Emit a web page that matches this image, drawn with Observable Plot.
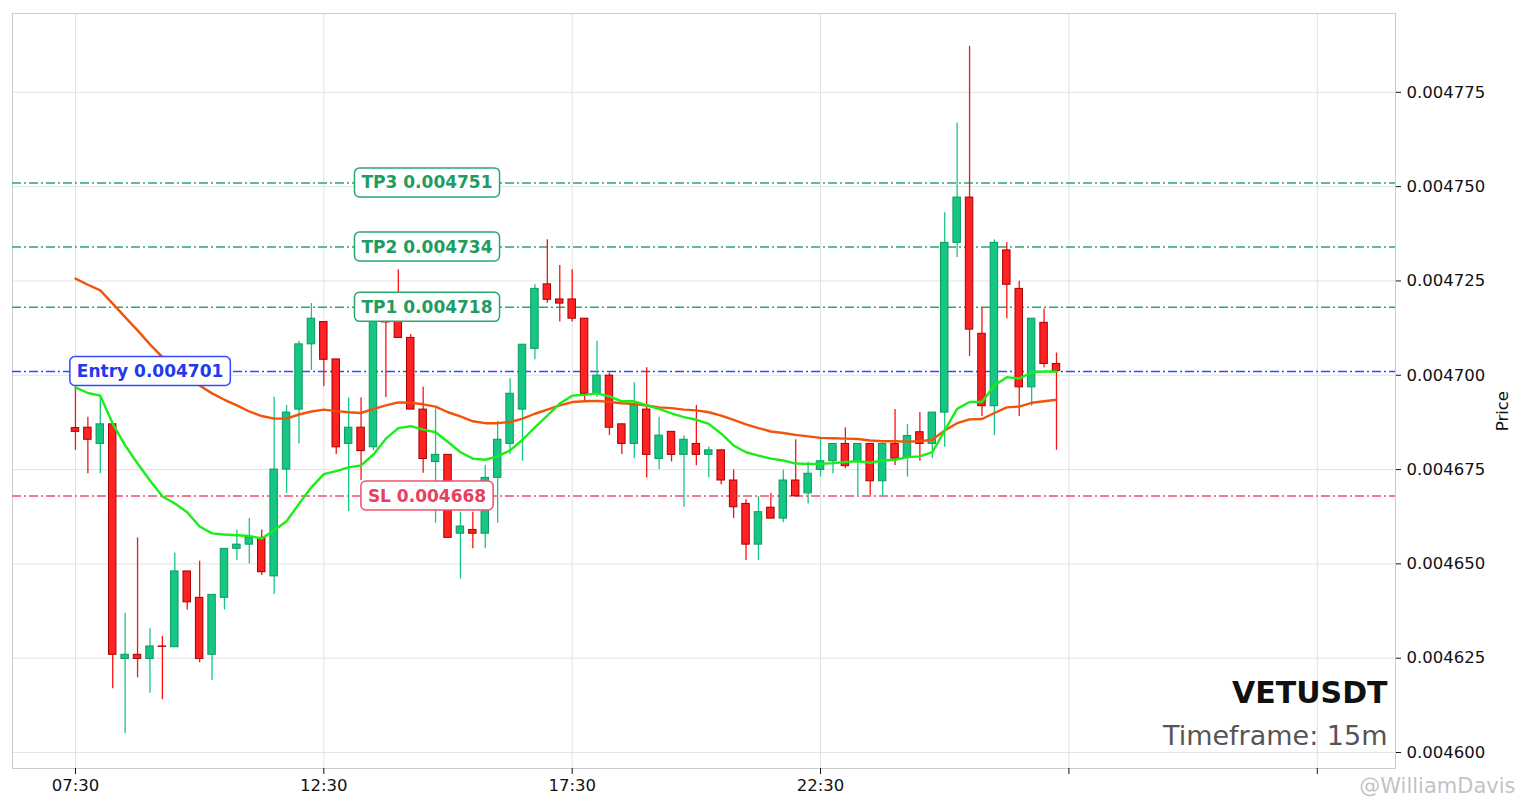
<!DOCTYPE html>
<html>
<head>
<meta charset="utf-8">
<script src="https://cdn.jsdelivr.net/npm/d3@7"></script>
<script src="https://cdn.jsdelivr.net/npm/@observablehq/plot@0.6"></script>
<style>
  body { margin: 0; background: #fff; }
  #chart svg { display: block; }
</style>
</head>
<body>
<div id="chart"></div>
<script>
// VETUSDT 15m candles, prices in millionths (4686.0 -> 0.0046860)
const symbol = "VETUSDT";
const timeframe = "Timeframe: 15m";

const opens  = [4686.0,4686.1,4681.8,4687.0,4624.8,4625.9,4624.8,4628.1,4627.9,4648.0,
                4641.0,4625.9,4641.0,4654.0,4655.1,4656.9,4646.7,4675.0,4690.9,4708.2,
                4714.1,4704.2,4681.8,4686.1,4680.9,4718.5,4716.0,4709.9,4690.9,4677.0,
                4678.9,4658.0,4659.0,4658.0,4672.8,4681.8,4690.9,4707.0,4724.1,4720.1,
                4720.1,4715.0,4695.1,4699.9,4687.0,4681.8,4690.9,4677.8,4685.0,4678.9,
                4681.8,4678.9,4680.1,4672.1,4665.9,4655.1,4664.9,4662.0,4672.1,4668.7,
                4674.9,4677.2,4681.8,4677.2,4681.8,4671.9,4681.8,4678.3,4684.9,4681.8,
                4690.1,4735.1,4747.1,4711.0,4691.8,4733.1,4722.9,4696.8,4713.9,4703.0];
const highs  = [4696.8,4688.9,4694.6,4687.0,4636.9,4656.9,4632.8,4630.8,4652.9,4648.0,
                4650.7,4641.8,4654.0,4659.0,4662.0,4659.0,4694.2,4692.0,4709.0,4719.0,
                4714.1,4704.2,4694.0,4694.0,4719.0,4720.0,4728.0,4710.8,4696.8,4691.1,
                4678.9,4663.7,4663.7,4676.1,4687.8,4699.1,4708.1,4724.0,4735.9,4729.1,
                4728.0,4715.0,4709.0,4700.6,4687.0,4698.0,4702.0,4688.9,4685.0,4684.0,
                4692.0,4681.0,4680.1,4674.9,4667.0,4667.9,4668.7,4674.9,4682.9,4677.0,
                4683.6,4681.8,4686.1,4681.8,4681.8,4682.0,4690.9,4686.9,4690.1,4690.1,
                4743.1,4766.9,4787.2,4717.9,4735.9,4735.1,4724.9,4715.0,4717.6,4705.9];
const lows   = [4680.1,4673.9,4673.9,4616.9,4605.0,4619.8,4615.7,4614.0,4627.9,4637.8,
                4623.8,4619.1,4637.8,4650.9,4650.0,4646.9,4641.9,4668.7,4681.8,4701.3,
                4697.0,4679.0,4663.9,4672.1,4680.0,4694.1,4709.9,4690.9,4674.0,4660.8,
                4656.9,4646.0,4654.0,4654.0,4660.8,4679.0,4677.2,4704.1,4719.1,4714.1,
                4714.1,4692.9,4694.2,4684.0,4679.0,4677.9,4672.8,4675.0,4677.0,4665.0,
                4676.0,4672.8,4671.0,4662.0,4650.9,4650.9,4662.0,4660.9,4667.9,4665.9,
                4673.0,4673.9,4675.2,4668.1,4668.1,4668.1,4676.1,4673.0,4677.2,4677.9,
                4680.9,4731.2,4705.0,4689.1,4684.0,4715.0,4689.1,4691.8,4702.0,4680.1];
const closes = [4685.0,4682.9,4687.0,4625.9,4625.9,4624.8,4628.1,4628.0,4648.0,4639.8,
                4624.8,4641.8,4654.0,4655.1,4656.9,4647.8,4675.0,4690.1,4708.2,4715.0,
                4704.1,4680.9,4686.1,4679.9,4717.0,4714.0,4709.9,4690.9,4677.8,4678.9,
                4656.9,4659.9,4658.0,4672.8,4682.9,4695.1,4708.1,4722.9,4720.0,4719.0,
                4715.0,4695.1,4699.9,4686.1,4681.8,4692.0,4678.9,4684.0,4678.9,4682.9,
                4678.9,4680.1,4672.1,4665.0,4655.1,4663.7,4662.0,4672.1,4667.9,4673.9,
                4677.2,4681.8,4675.9,4681.8,4671.9,4681.8,4677.9,4683.9,4681.8,4690.1,
                4735.1,4747.1,4712.1,4691.8,4735.1,4724.0,4696.8,4715.0,4703.0,4701.1];

// moving averages, read per candle
const maFast = [4696.8,4695.3,4694.6,4687.2,4681.4,4676.6,4672.1,4667.9,4666.0,4663.7,
                4659.9,4658.1,4657.8,4657.6,4657.4,4656.7,4658.9,4661.3,4665.9,4670.3,
                4673.8,4674.6,4675.6,4676.1,4679.0,4683.2,4686.0,4686.5,4685.6,4684.9,
                4682.3,4679.6,4677.9,4677.6,4678.5,4680.1,4682.9,4686.2,4689.3,4692.5,
                4694.6,4694.8,4695.2,4694.4,4693.1,4693.1,4692.0,4691.1,4689.9,4688.9,
                4688.2,4687.1,4684.5,4681.4,4679.6,4678.7,4677.9,4677.4,4676.6,4676.5,
                4676.5,4676.7,4677.0,4677.2,4676.8,4677.4,4677.6,4678.3,4678.5,4679.6,
                4685.4,4691.1,4692.9,4692.9,4697.3,4699.5,4699.1,4700.8,4701.0,4701.0];
const maSlow = [4725.6,4724.0,4722.5,4719.0,4715.4,4711.9,4708.2,4704.8,4702.3,4699.7,
                4697.3,4695.2,4693.5,4692.0,4690.4,4689.2,4688.5,4688.5,4689.6,4690.4,
                4690.9,4690.5,4690.2,4690.0,4691.1,4692.0,4692.8,4692.7,4692.3,4691.7,
                4690.2,4689.1,4687.8,4687.3,4687.3,4687.6,4688.5,4689.8,4690.9,4692.0,
                4692.9,4693.1,4693.2,4692.9,4692.6,4692.4,4692.0,4691.5,4691.3,4690.9,
                4690.7,4690.2,4689.3,4688.2,4687.0,4686.0,4685.1,4684.7,4684.2,4683.8,
                4683.4,4683.3,4683.2,4683.1,4682.7,4682.5,4682.5,4682.4,4682.5,4682.9,
                4685.4,4687.3,4688.3,4688.4,4690.0,4691.5,4691.7,4692.7,4693.1,4693.5];

// trade levels
const levelNames  = ["TP3 0.004751", "TP2 0.004734", "TP1 0.004718", "Entry 0.004701", "SL 0.004668"];
const levelPrices = [4751, 4734, 4718, 4701, 4668];
const levelColors = ["#2aa86c", "#2aa86c", "#2aa86c", "#3347ff", "#f0506c"];
const levelText   = ["#1f9c5f", "#1f9c5f", "#1f9c5f", "#2238ee", "#e8405e"];
const levelLabelX = [28.35, 28.35, 28.35, 6.05, 28.35];

// axes
const xTickValues = [0, 20, 40, 60, 80, 100];
const xTickLabels = ["07:30", "12:30", "17:30", "22:30", "", ""];
const yTickValues = [4600, 4625, 4650, 4675, 4700, 4725, 4750, 4775];

const candles = opens.map((o, i) => ({
  i, open: o, high: highs[i], low: lows[i], close: closes[i],
  fast: maFast[i], slow: maSlow[i], up: closes[i] >= o
}));
const levels = levelNames.map((name, k) => ({
  name, price: levelPrices[k], color: levelColors[k], text: levelText[k], lx: levelLabelX[k]
}));

const upFill = "#16c784", upEdge = "#0b9a60";
const downFill = "#ff2222", downEdge = "#a50000";

// boxed labels on the level lines
function levelLabels(index, scales) {
  const g = d3.create("svg:g");
  const ctx = document.createElement("canvas").getContext("2d");
  ctx.font = "bold 17px 'DejaVu Sans'";
  for (const lv of levels) {
    const cx = scales.x(lv.lx), cy = scales.y(lv.price);
    const w = ctx.measureText(lv.name).width + 14, h = 29;
    g.append("rect")
      .attr("x", cx - w / 2).attr("y", cy - h / 2)
      .attr("width", w).attr("height", h).attr("rx", 5)
      .attr("fill", "white").attr("stroke", lv.color).attr("stroke-width", 1.5);
    g.append("text")
      .attr("x", cx).attr("y", cy)
      .attr("text-anchor", "middle").attr("dy", "0.36em")
      .attr("font-family", "DejaVu Sans").attr("font-weight", "bold").attr("font-size", 17)
      .attr("fill", lv.text)
      .text(lv.name);
  }
  return g.node();
}

const chart = Plot.plot({
  width: 1523,
  height: 800,
  marginLeft: 12,
  marginRight: 128,
  marginTop: 13,
  marginBottom: 32,
  style: { fontFamily: "DejaVu Sans", fontSize: "16.5px", color: "#111", background: "white" },
  x: { domain: [-5.07, 106.3] },
  y: { domain: [4595.76, 4795.9] },
  marks: [
    Plot.gridX(xTickValues, { stroke: "#e2e2e2", strokeOpacity: 1 }),
    Plot.gridY(yTickValues, { stroke: "#e2e2e2", strokeOpacity: 1 }),
    Plot.frame({ stroke: "#cccccc" }),
    Plot.axisX(xTickValues, {
      anchor: "bottom", tickSize: 6, tickPadding: 5,
      tickFormat: d => xTickLabels[xTickValues.indexOf(d)], label: null
    }),
    Plot.axisY(yTickValues, {
      anchor: "right", tickSize: 5, tickPadding: 6,
      tickFormat: d => (d / 1e6).toFixed(6), label: null
    }),
    Plot.text(["Price"], { frameAnchor: "right", dx: 107, rotate: -90, fontSize: 16.5 }),
    Plot.ruleY(levels, { y: "price", stroke: "color", strokeWidth: 1.5, strokeDasharray: "9,3,2,3" }),
    Plot.ruleX(candles, {
      x: "i", y1: "low", y2: "high", strokeWidth: 1.3,
      stroke: d => d.up ? upFill : "#ff1010"
    }),
    Plot.rect(candles, {
      x1: d => d.i - 0.3, x2: d => d.i + 0.3, y1: "open", y2: "close",
      fill: d => d.up ? upFill : downFill,
      stroke: d => d.up ? upEdge : downEdge, strokeWidth: 1
    }),
    Plot.line(candles, { x: "i", y: "slow", stroke: "#f2530c", strokeWidth: 2.4 }),
    Plot.line(candles, { x: "i", y: "fast", stroke: "#19ee19", strokeWidth: 2.4 }),
    levelLabels,
    Plot.text([symbol], {
      frameAnchor: "bottom-right", dx: -8, dy: -66, textAnchor: "end",
      fontSize: 30, fontWeight: "bold", fill: "#111"
    }),
    Plot.text([timeframe], {
      frameAnchor: "bottom-right", dx: -8, dy: -24, textAnchor: "end",
      fontSize: 27, fill: "#555"
    }),
    Plot.text(["@WilliamDavis"], {
      frameAnchor: "bottom-right", dx: 120, dy: 24, textAnchor: "end",
      fontSize: 21, fill: "#999", fillOpacity: 0.6
    })
  ]
});
document.getElementById("chart").append(chart);
</script>
</body>
</html>
